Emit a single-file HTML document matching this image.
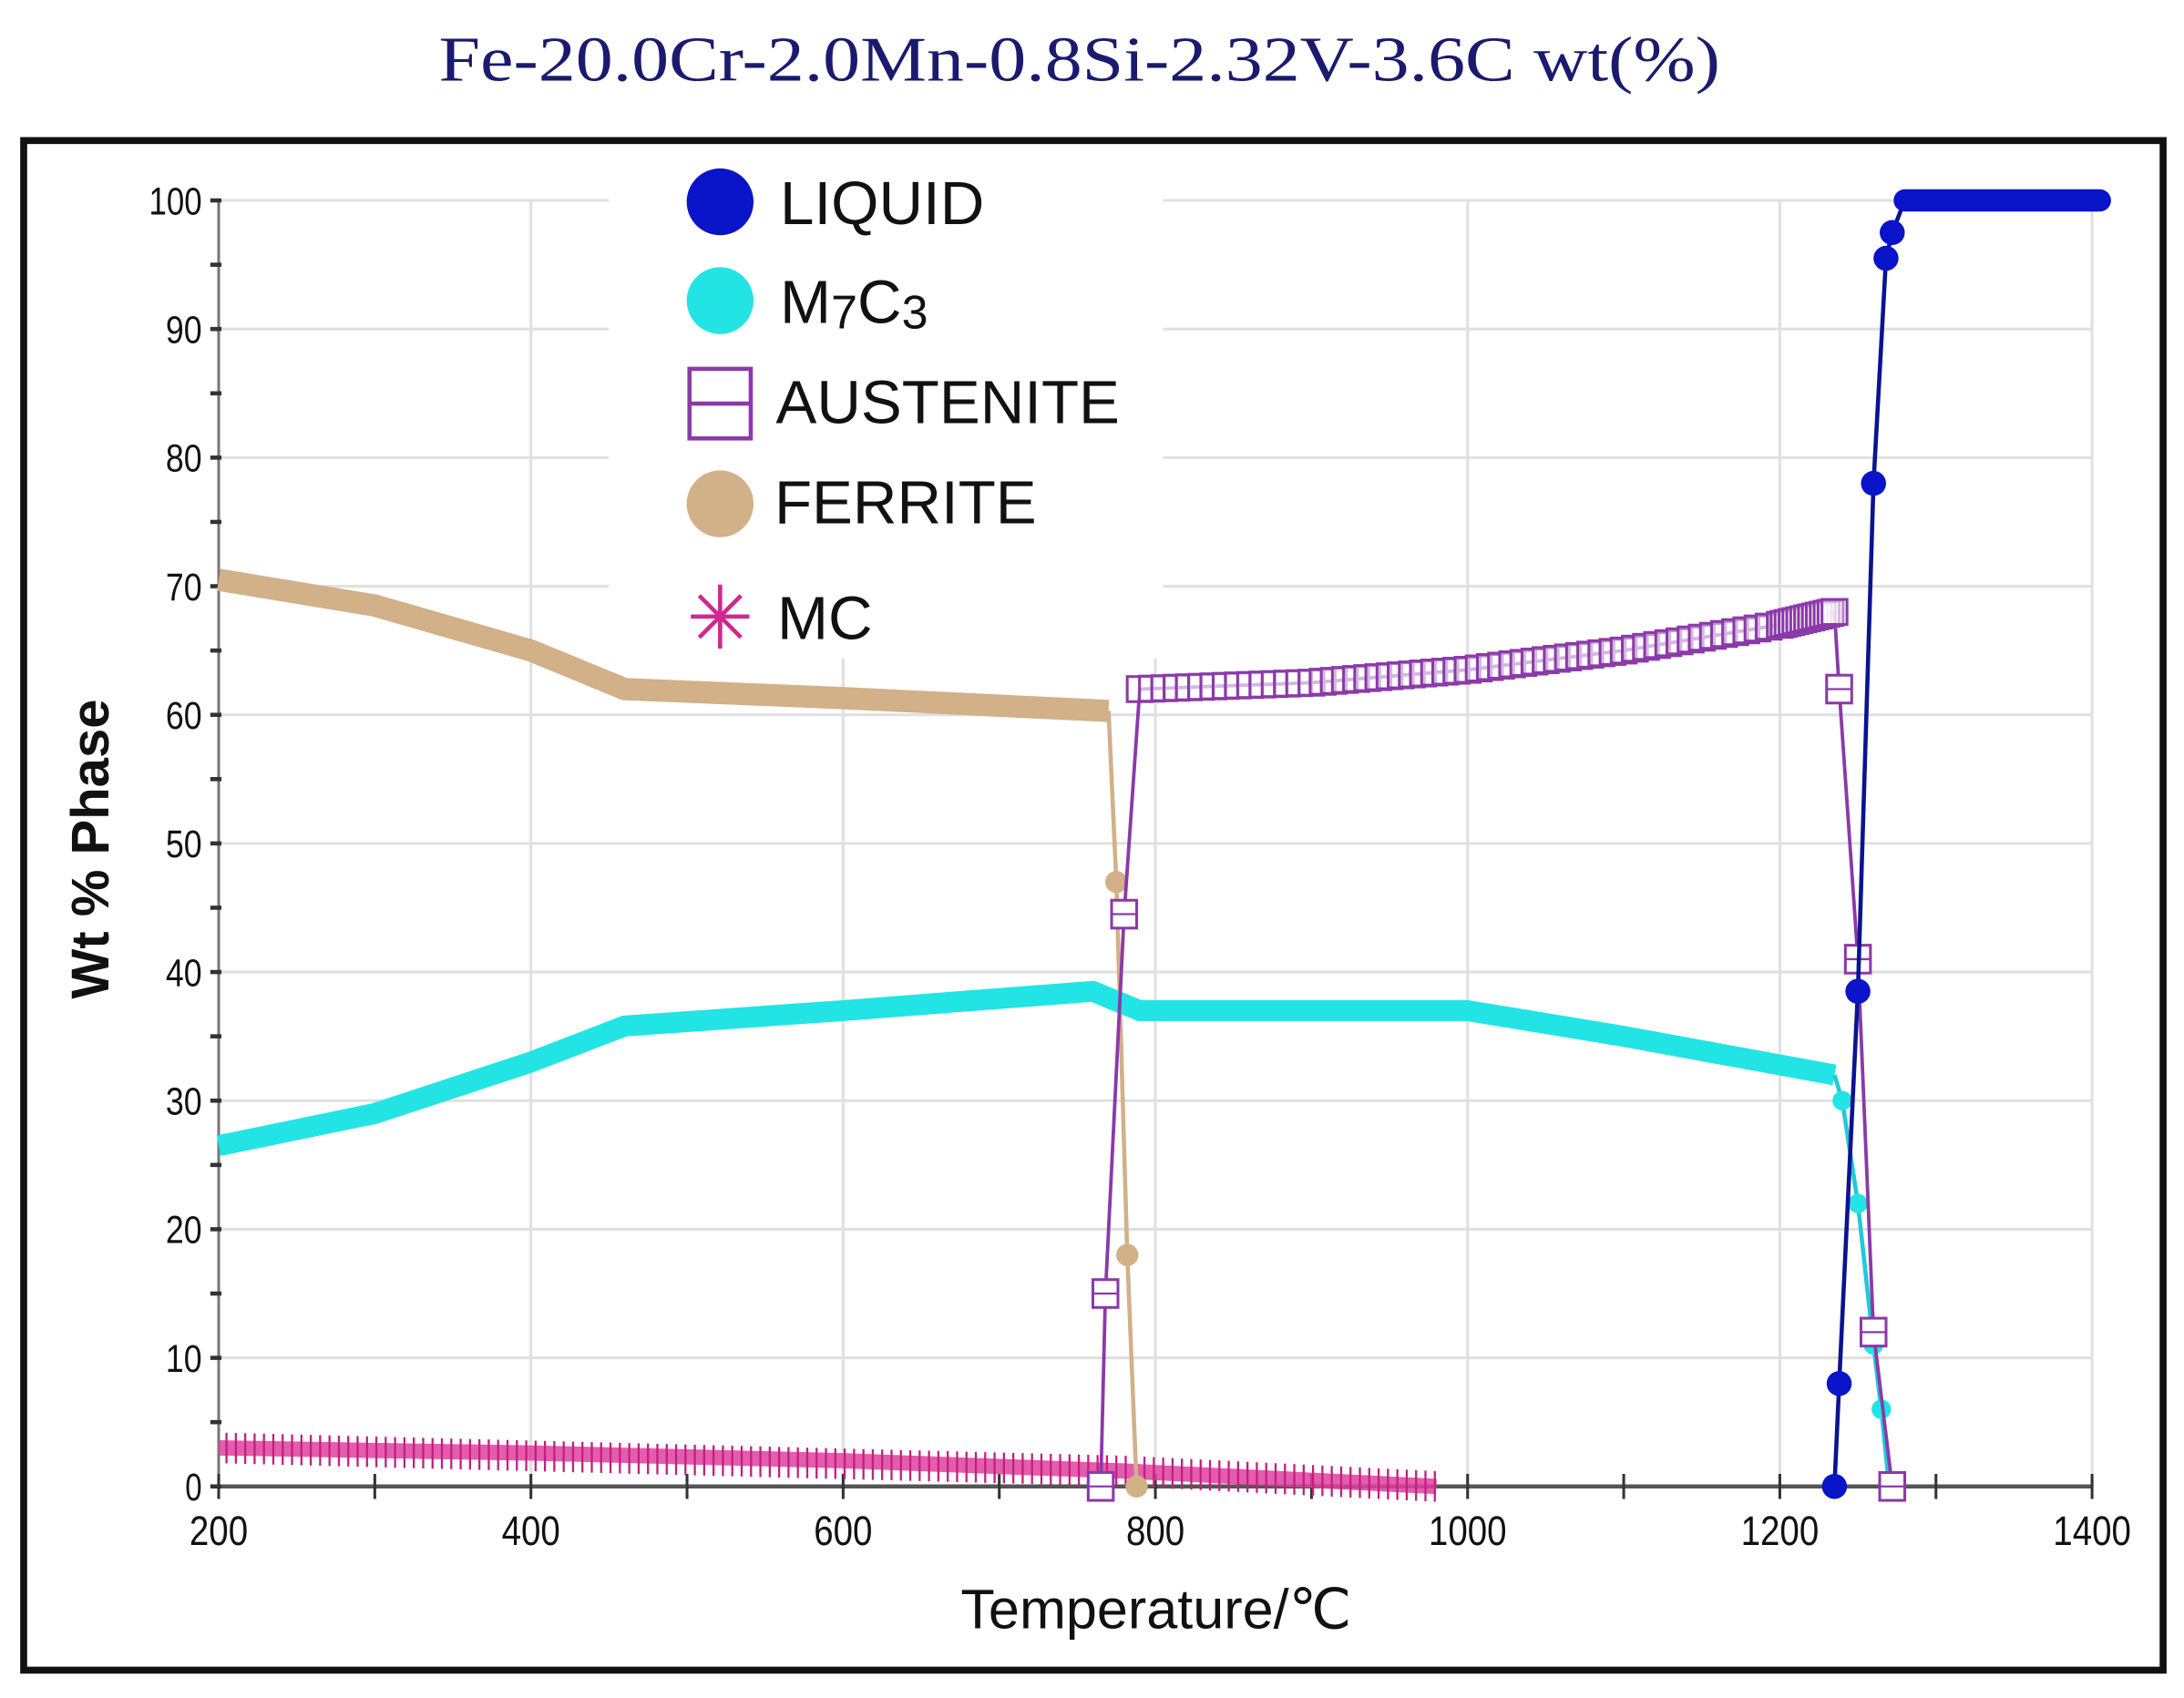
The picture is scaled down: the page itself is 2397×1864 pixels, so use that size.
<!DOCTYPE html>
<html><head><meta charset="utf-8"><style>html,body{margin:0;padding:0;background:#fff}svg{display:block}</style></head>
<body>
<svg id="s" width="2397" height="1864" viewBox="0 0 1568 1220" preserveAspectRatio="none" xmlns="http://www.w3.org/2000/svg">
<rect width="1568" height="1220" fill="#fff"/>
<text x="775" y="58" text-anchor="middle" font-family="Liberation Serif, serif" font-size="46" fill="#1a1a6e" textLength="920" lengthAdjust="spacingAndGlyphs">Fe-20.0Cr-2.0Mn-0.8Si-2.32V-3.6C wt(%)</text>
<rect x="17" y="101" width="1536" height="1099" fill="none" stroke="#111" stroke-width="5"/>
<g id="grid" stroke="#e0e0e0" stroke-width="2"></g>
<g id="axes"></g>
<g id="series"></g>
<rect x="437" y="108" width="398" height="365" fill="#fff"/>
<g font-family="Liberation Sans, sans-serif" font-size="44" fill="#111">
<circle cx="517" cy="145" r="24" fill="#0a14c8"/><text x="560" y="161">LIQUID</text>
<circle cx="517" cy="216" r="24" fill="#22e4e4"/><text x="560" y="232">M<tspan font-size="34" dy="4">7</tspan><tspan dy="-4">C</tspan><tspan font-size="34" dy="4">3</tspan></text>
<rect x="495" y="265" width="44" height="50" fill="none" stroke="#8a3aa8" stroke-width="3"/><line x1="495" y1="290" x2="539" y2="290" stroke="#8a3aa8" stroke-width="3"/><text x="557" y="304">AUSTENITE</text>
<circle cx="517" cy="362" r="24" fill="#d2b088"/><text x="556" y="376">FERRITE</text>
<g stroke="#d02890" stroke-width="3"><line x1="517" y1="420" x2="517" y2="466"/><line x1="496" y1="443" x2="538" y2="443"/><line x1="502" y1="428" x2="532" y2="458"/><line x1="532" y1="428" x2="502" y2="458"/></g><text x="558" y="459">MC</text>
</g>
<text transform="translate(78,610) rotate(-90)" text-anchor="middle" font-family="Liberation Sans, sans-serif" font-weight="bold" font-size="38" fill="#111">Wt % Phase</text>
<text x="830" y="1170" text-anchor="middle" font-family="Liberation Sans, sans-serif" font-size="40" fill="#111">Temperature/℃</text>
</svg>
<script>
const NS="http://www.w3.org/2000/svg";
const X=t=>157+(t-200)*1345/1200, Y=v=>1068-v*9.24;
function el(p,tag,a,txt){const e=document.createElementNS(NS,tag);for(const k in a)e.setAttribute(k,a[k]);if(txt!==undefined)e.textContent=txt;document.getElementById(p).appendChild(e);return e;}
for(let t=400;t<=1400;t+=200)el('grid','line',{x1:X(t),y1:Y(0),x2:X(t),y2:Y(100)});
for(let v=10;v<=100;v+=10)el('grid','line',{x1:X(200),y1:Y(v),x2:X(1400),y2:Y(v)});
el('axes','line',{x1:X(200),y1:Y(0),x2:X(1400),y2:Y(0),stroke:'#555','stroke-width':3});
el('axes','line',{x1:X(200),y1:Y(0),x2:X(200),y2:Y(100),stroke:'#777','stroke-width':2});
for(let t=200;t<=1400;t+=100){el('axes','line',{x1:X(t),y1:Y(0)-9,x2:X(t),y2:Y(0)+9,stroke:'#333','stroke-width':2});}
for(let t=200;t<=1400;t+=200)el('axes','text',{x:X(t),y:1110,'text-anchor':'middle','font-family':'Liberation Sans Narrow, Liberation Sans, sans-serif','font-size':30,fill:'#111',textLength:t<1000?42:56,lengthAdjust:'spacingAndGlyphs'},t);
for(let v=0;v<=100;v+=5)el('axes','line',{x1:X(200)-6,y1:Y(v),x2:X(200)+2,y2:Y(v),stroke:'#333','stroke-width':3});
for(let v=0;v<=100;v+=10)el('axes','text',{x:X(200)-12,y:Y(v)+10,'text-anchor':'end','font-family':'Liberation Sans Narrow, Liberation Sans, sans-serif','font-size':28,fill:'#111',textLength:v==100?38:(v==0?12:26),lengthAdjust:'spacingAndGlyphs'},v);
function pts(a){return a.map(p=>X(p[0])+','+Y(p[1])).join(' ');}
function interp(a,n){const out=[];for(let i=0;i<a.length-1;i++){for(let k=0;k<n;k++){const f=k/n;out.push([a[i][0]+(a[i+1][0]-a[i][0])*f,a[i][1]+(a[i+1][1]-a[i][1])*f]);}}out.push(a[a.length-1]);return out;}
const mc=[[200,3],[400,2.6],[600,2],[780,1.2],[980,0]];
el('series','polyline',{points:pts(mc),fill:'none',stroke:'#e0409e','stroke-width':11,'stroke-opacity':0.85});
for(let t=205;t<=980;t+=6){let v=t<780?3-(t-200)/580*1.8:1.2-(t-780)/200*1.2;const x=X(t),y=Y(v);el('series','line',{x1:x,y1:y-11,x2:x,y2:y+11,stroke:'#c02080','stroke-width':1.5});}
const fe=[[200,70.5],[300,68.5],[400,65],[460,62],[600,61.3],[770,60.3]];
el('series','polyline',{points:pts(fe),fill:'none',stroke:'#d2b088','stroke-width':16});
el('series','polyline',{points:pts([[770,60.3],[775,47],[782,18],[788,0]]),fill:'none',stroke:'#d2b088','stroke-width':3});
[[775,47],[782,18],[788,0]].forEach(p=>el('series','circle',{cx:X(p[0]),cy:Y(p[1]),r:8,fill:'#d2b088'}));
const m7=[[200,26.5],[300,29],[400,33],[460,35.8],[600,37],[760,38.5],[790,37],[1000,37],[1100,35],[1235,32]];
el('series','polyline',{points:pts(m7),fill:'none',stroke:'#22e4e4','stroke-width':15});
el('series','polyline',{points:pts([[1235,32],[1240,30],[1250,22],[1260,11],[1265,6],[1270,0]]),fill:'none',stroke:'#22c8d8','stroke-width':3});
[[1240,30],[1250,22],[1260,11],[1265,6],[1270,0]].forEach(p=>el('series','circle',{cx:X(p[0]),cy:Y(p[1]),r:7,fill:'#22e4e4'}));
const au=[[765,0],[768,15],[780,44.5],[790,62],[900,62.5],[1000,63.5],[1100,65],[1200,67],[1235,68],[1238,62],[1250,41],[1260,12],[1272,0]];
el('series','polyline',{points:pts(au),fill:'none',stroke:'#8a3aa8','stroke-width':2.5});
const band=interp([[790,62],[900,62.5],[1000,63.5],[1100,65],[1200,67],[1235,68]],14);
band.forEach(p=>{const x=X(p[0]),y=Y(p[1]);el('series','rect',{x:x-9,y:y-9,width:18,height:18,fill:'#fff','fill-opacity':0.4,stroke:'#8a3aa8','stroke-width':2});});
[[765,0],[768,15],[780,44.5],[1238,62],[1250,41],[1260,12],[1272,0]].forEach(p=>{const x=X(p[0]),y=Y(p[1]);el('series','rect',{x:x-9,y:y-10,width:18,height:20,fill:'#fff',stroke:'#8a3aa8','stroke-width':2});el('series','line',{x1:x-9,y1:y,x2:x+9,y2:y,stroke:'#8a3aa8','stroke-width':1.5});});
const lq=[[1235,0],[1238,8],[1250,38.5],[1260,78],[1268,95.5],[1272,97.5],[1280,100],[1400,100]];
el('series','polyline',{points:pts(lq),fill:'none',stroke:'#0a1490','stroke-width':3});
el('series','line',{x1:X(1280),y1:Y(100),x2:X(1405),y2:Y(100),stroke:'#0a14c8','stroke-width':16,'stroke-linecap':'round'});
[[1235,0],[1238,8],[1250,38.5],[1260,78],[1268,95.5],[1272,97.5]].forEach(p=>el('series','circle',{cx:X(p[0]),cy:Y(p[1]),r:9,fill:'#0a14c8'}));
</script>
</body></html>
